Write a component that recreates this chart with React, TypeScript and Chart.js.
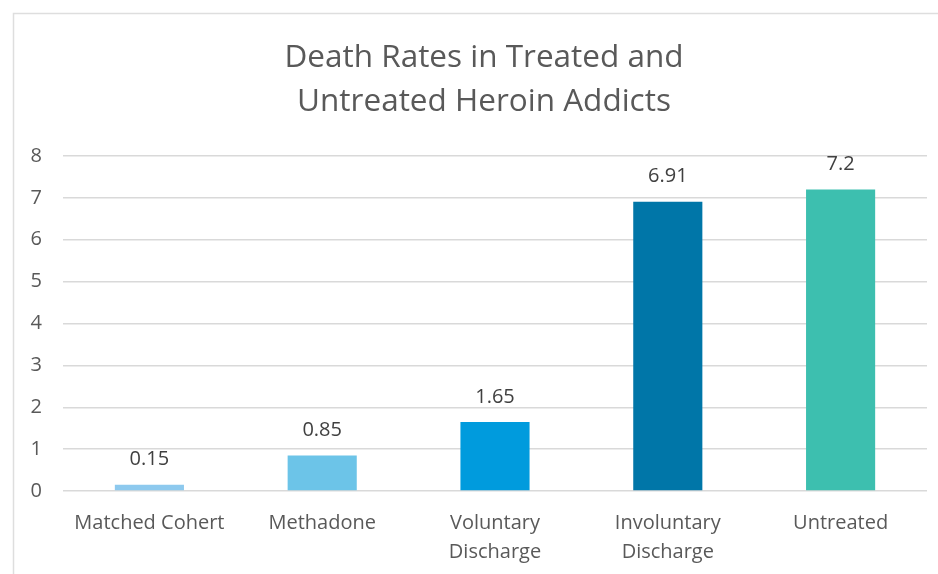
import React, { useEffect, useRef } from "react";
import { Chart, registerables } from "chart.js";

Chart.register(...registerables);

const categories: (string | string[])[] = [
  "Matched Cohert",
  "Methadone",
  ["Voluntary", "Discharge"],
  ["Involuntary", "Discharge"],
  "Untreated",
];
const deathRates = [0.15, 0.85, 1.65, 6.91, 7.2];
const barColors = ["#8DC9EE", "#6CC4E8", "#009BDD", "#0076A8", "#3DBFAF"];
const titleLines = ["Death Rates in Treated and", "Untreated Heroin Addicts"];

const FONT = "'Open Sans', Lato, sans-serif";

// Light frame around the chart and a centered two-line title
const framePlugin = {
  id: "frame",
  beforeDraw(chart: Chart) {
    const { ctx, width, height } = chart;
    ctx.save();
    ctx.fillStyle = "#ffffff";
    ctx.fillRect(0, 0, width, height);
    ctx.strokeStyle = "#dedede";
    ctx.lineWidth = 1.5;
    ctx.beginPath();
    ctx.moveTo(13.5, height);
    ctx.lineTo(13.5, 13.5);
    ctx.lineTo(width, 13.5);
    ctx.stroke();
    ctx.fillStyle = "#595959";
    ctx.font = `31.5px ${FONT}`;
    ctx.textAlign = "center";
    ctx.textBaseline = "middle";
    titleLines.forEach((t, i) => ctx.fillText(t, 484, 58 + i * 44));
    ctx.restore();
  },
};

// Value labels above each bar
const valueLabels = {
  id: "valueLabels",
  afterDatasetsDraw(chart: Chart) {
    const { ctx } = chart;
    const meta = chart.getDatasetMeta(0);
    ctx.save();
    ctx.fillStyle = "#404040";
    ctx.font = `20px ${FONT}`;
    ctx.textAlign = "center";
    ctx.textBaseline = "middle";
    meta.data.forEach((bar: any, i: number) => {
      ctx.fillText(String(deathRates[i]), bar.x, bar.y - 25);
    });
    ctx.restore();
  },
};

export default function App() {
  const ref = useRef<HTMLCanvasElement>(null);

  useEffect(() => {
    if (!ref.current) return;
    const chart = new Chart(ref.current, {
      type: "bar",
      data: {
        labels: categories,
        datasets: [
          {
            data: deathRates,
            backgroundColor: barColors,
            barPercentage: 0.4,
            categoryPercentage: 1,
          },
        ],
      },
      options: {
        responsive: false,
        animation: false,
        layout: { padding: { top: 156, right: 11, bottom: 0, left: 0 } },
        plugins: {
          legend: { display: false },
          title: { display: false },
          tooltip: { enabled: false },
        },
        scales: {
          x: {
            grid: { display: false, drawTicks: false },
            border: { display: false },
            ticks: {
              color: "#595959",
              font: { family: FONT, size: 20, lineHeight: 1.45 },
              padding: 18,
              maxRotation: 0,
              autoSkip: false,
            },
            afterFit: (s: any) => {
              s.height = 83;
            },
          },
          y: {
            min: 0,
            max: 8,
            grid: { color: "#d9d9d9", lineWidth: 1.5, drawTicks: false },
            border: { display: false },
            ticks: {
              stepSize: 1,
              color: "#595959",
              font: { family: FONT, size: 20 },
              padding: 21,
            },
            afterFit: (s: any) => {
              s.width = 63;
            },
          },
        },
      },
      plugins: [framePlugin, valueLabels],
    });
    return () => chart.destroy();
  }, []);

  return (
    <div style={{ position: "fixed", left: 0, top: 0, width: 938, height: 574, background: "#fff" }}>
      <canvas ref={ref} width={938} height={574} />
    </div>
  );
}
